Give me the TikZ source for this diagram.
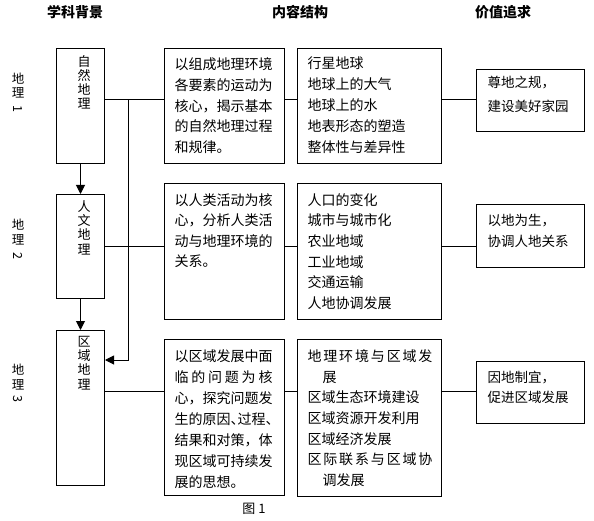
\documentclass[tikz,border=0pt]{standalone}
\usepackage{fontspec}
\setmainfont{Noto Sans CJK SC}
\usetikzlibrary{arrows.meta}
% a block of lines with a fixed line pitch; its baseline is that of the first line
\newcommand\vl[2]{\vtop{\baselineskip=#1\lineskiplimit=-100pt\lineskip=0pt\relax #2}}
\newcommand\Ln[1]{\hbox{#1}}
\newcommand\Cn[1]{\hbox to 14bp{\hss#1\hss}}
\begin{document}
\begin{tikzpicture}[x=1bp,y=-1bp,line width=1bp,
  box/.style={draw,line width=1bp,inner sep=0pt,anchor=north west},
  txt/.style={inner sep=0pt,anchor=base west,font=\fontsize{14bp}{20bp}\selectfont},
  valtxt/.style={inner sep=0pt,anchor=base west,font=\fontsize{13.5bp}{20bp}\selectfont},
  vtxt/.style={inner sep=0pt,anchor=base,font=\fontsize{13bp}{14bp}\selectfont},
  side/.style={inner sep=0pt,anchor=base,font=\fontsize{12.5bp}{14bp}\selectfont},
  digit/.style={inner sep=0pt,rotate=-90,font=\fontsize{12.5bp}{14bp}\selectfont},
  head/.style={inner sep=0pt,anchor=base,font=\fontsize{14bp}{16bp}\selectfont\bfseries},
  tip/.style={-{Triangle[length=9bp,width=9bp]}}]
\useasboundingbox (0,0) rectangle (594,521);
% headers
\node[head] (h1) at (75,17.5) {学科背景};
\node[head] (h2) at (300,17.5) {内容结构};
\node[head] (h3) at (503,17.5) {价值追求};
% side labels
\node[side] (s1) at (18,83.8) {\vl{14bp}{\Ln{地}\Ln{理}}};
\node[digit] (s1n) at (18,109) {1};
\node[side] (s2) at (18,229.8) {\vl{14.5bp}{\Ln{地}\Ln{理}}};
\node[digit] (s2n) at (18,256) {2};
\node[side] (s3) at (18,374.8) {\vl{14.5bp}{\Ln{地}\Ln{理}}};
\node[digit] (s3n) at (18,399) {3};
% column 1
\node[box,minimum width=48bp,minimum height=115bp] (a1) at (56,48) {};
\node[box,minimum width=48bp,minimum height=104bp] (a2) at (56,194) {};
\node[box,minimum width=48bp,minimum height=155bp] (a3) at (56,330) {};
\node[vtxt] (ta1) at (84,66.4) {\vl{14.2bp}{\Cn{自}\Cn{然}\Cn{地}\Cn{理}}};
\node[vtxt] (ta2) at (84,211.4) {\vl{14.2bp}{\Cn{人}\Cn{文}\Cn{地}\Cn{理}}};
\node[vtxt] (ta3) at (84,346.4) {\vl{14.2bp}{\Cn{区}\Cn{域}\Cn{地}\Cn{理}}};
% column 2
\node[box,minimum width=120bp,minimum height=115bp] (b1) at (164,48) {};
\node[box,minimum width=120bp,minimum height=136bp] (b2) at (164,183) {};
\node[box,minimum width=120bp,minimum height=156bp] (b3) at (164,339) {};
\node[txt] (tb1) at (174,69.8) {\vl{20.7bp}{\Ln{以组成地理环境}\Ln{各要素的运动为}\Ln{核心，揭示基本}\Ln{的自然地理过程}\Ln{和规律。}}};
\node[txt] (tb2) at (174,205.3) {\vl{20.4bp}{\Ln{以人类活动为核}\Ln{心，分析人类活}\Ln{动与地理环境的}\Ln{关系。}}};
\node[txt] (tb3) at (174,361.3) {\vl{21bp}{\Ln{以区域发展中面}\Ln{\makebox[98bp][s]{临\hfill 的\hfill 问\hfill 题\hfill 为\hfill 核}}\Ln{心，探究问题发}\Ln{\makebox[98bp][s]{生的原因\makebox[7bp][l]{、}过程\makebox[7bp][l]{、}}}\Ln{结果和对策，体}\Ln{现区域可持续发}\Ln{展的思想。}}};
% column 3
\node[box,minimum width=144bp,minimum height=115bp] (c1) at (297,48) {};
\node[box,minimum width=144bp,minimum height=136bp] (c2) at (297,183) {};
\node[box,minimum width=144bp,minimum height=157bp] (c3) at (297,339) {};
\node[txt] (tc1) at (307,69) {\vl{21bp}{\Ln{行星地球}\Ln{地球上的大气}\Ln{地球上的水}\Ln{地表形态的塑造}\Ln{整体性与差异性}}};
\node[txt] (tc2) at (307,205.3) {\vl{20.6bp}{\Ln{人口的变化}\Ln{城市与城市化}\Ln{农业地域}\Ln{工业地域}\Ln{交通运输}\Ln{人地协调发展}}};
\node[txt] (tc3) at (307,361.3) {\vl{20.7bp}{\Ln{\makebox[125bp][s]{地\hfill 理\hfill 环\hfill 境\hfill 与\hfill 区\hfill 域\hfill 发}}\Ln{\hspace*{15bp}展}\Ln{区域生态环境建设}\Ln{区域资源开发利用}\Ln{区域经济发展}\Ln{\makebox[125bp][s]{区\hfill 际\hfill 联\hfill 系\hfill 与\hfill 区\hfill 域\hfill 协}}\Ln{\hspace*{15bp}调发展}}};
% column 4
\node[box,minimum width=108bp,minimum height=62bp] (d1) at (476,69) {};
\node[box,minimum width=108bp,minimum height=63bp] (d2) at (476,204) {};
\node[box,minimum width=108bp,minimum height=62bp] (d3) at (476,361) {};
\node[valtxt] (td1) at (487,87.1) {\vl{24bp}{\Ln{尊地之规，}\Ln{建设美好家园}}};
\node[valtxt] (td2) at (487,225.1) {\vl{21bp}{\Ln{以地为生，}\Ln{协调人地关系}}};
\node[valtxt] (td3) at (487,382.1) {\vl{20bp}{\Ln{因地制宜，}\Ln{促进区域发展}}};
% caption
\node[inner sep=0pt,anchor=base,font=\fontsize{13bp}{15bp}\selectfont] (cap) at (254,513) {图 1};
% connectors
\coordinate (r1) at (0,100);
\coordinate (r2) at (0,246);
\coordinate (r3) at (0,391);
\coordinate (ay) at (0,360);
\coordinate (j) at (128,100);
\draw (a1.east |- r1) -- (b1.west |- r1);
\draw (b1.east |- r1) -- (c1.west |- r1);
\draw (c1.east |- r1) -- (d1.west |- r1);
\draw (a2.east |- r2) -- (b2.west |- r2);
\draw (b2.east |- r2) -- (c2.west |- r2);
\draw (c2.east |- r2) -- (d2.west |- r2);
\draw (a3.east |- r3) -- (b3.west |- r3);
\draw (b3.east |- r3) -- (c3.west |- r3);
\draw (c3.east |- r3) -- (d3.west |- r3);
\draw[tip] (a1.south) -- (a2.north);
\draw[tip] (a2.south) -- (a3.north);
\draw[tip] (j) |- (a3.east |- ay);
\end{tikzpicture}
\end{document}
